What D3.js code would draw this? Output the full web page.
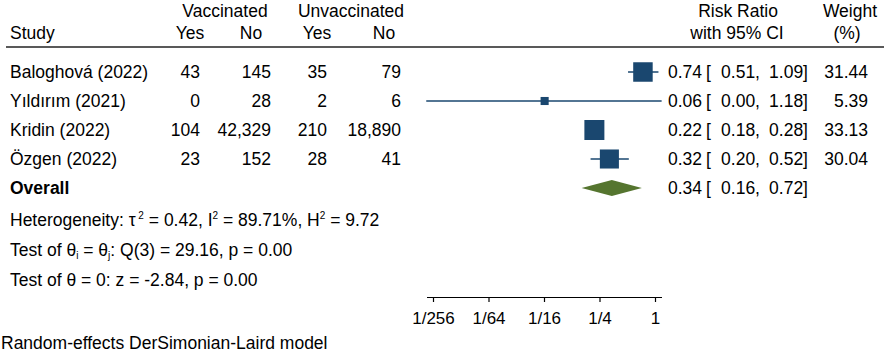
<!DOCTYPE html>
<html><head><meta charset="utf-8">
<script src="https://cdn.jsdelivr.net/npm/d3@7"></script>
<style>body{margin:0;background:#fff}text{font-family:"Liberation Sans",Arial,sans-serif;font-size:17.5px;fill:#000}</style>
</head><body><svg id="c" width="886" height="353"></svg>
<script>
const studies = ["Baloghová (2022)", "Yıldırım (2021)", "Kridin (2022)", "Özgen (2022)"];
const vaccYes = ["43", "0", "104", "23"];
const vaccNo = ["145", "28", "42,329", "152"];
const unvaccYes = ["35", "2", "210", "28"];
const unvaccNo = ["79", "6", "18,890", "41"];
const rr = [0.74, 0.0635, 0.22, 0.32];
const rrLo = [0.51, 0.0033, 0.18, 0.20];
const rrHi = [1.09, 1.18, 0.28, 0.52];
const rrLabel = ["0.74", "0.06", "0.22", "0.32"];
const loLabel = ["0.51", "0.00", "0.18", "0.20"];
const hiLabel = ["1.09", "1.18", "0.28", "0.52"];
const weights = [31.44, 5.39, 33.13, 30.04];
const overall = {rr: 0.34, lo: 0.16, hi: 0.72};
const axisTicks = [1/256, 1/64, 1/16, 1/4, 1];
const tickLabels = ["1/256", "1/64", "1/16", "1/4", "1"];

const svg = d3.select("#c");
const x = d3.scaleLog().base(2).domain([1/256, 1]).range([433, 655]);
const rowY = d3.scalePoint().domain(d3.range(5)).range([72, 188]);

// header
const hdr = [
  {t:"Vaccinated", x:225, y:17, a:"middle"},
  {t:"Unvaccinated", x:351, y:17, a:"middle"},
  {t:"Study", x:10, y:39, a:"start"},
  {t:"Yes", x:190, y:39, a:"middle"},
  {t:"No", x:251, y:39, a:"middle"},
  {t:"Yes", x:317, y:39, a:"middle"},
  {t:"No", x:384, y:39, a:"middle"},
  {t:"Risk Ratio", x:738, y:17, a:"middle"},
  {t:"with 95% CI", x:737, y:39, a:"middle"},
  {t:"Weight", x:850, y:17, a:"middle"},
  {t:"(%)", x:847, y:39, a:"middle"}
];
svg.selectAll("text.h").data(hdr).join("text").attr("class","h")
  .attr("x",d=>d.x).attr("y",d=>d.y).attr("text-anchor",d=>d.a).text(d=>d.t);
svg.append("line").attr("x1",6).attr("x2",884).attr("y1",47).attr("y2",47)
  .attr("stroke","#222").attr("stroke-width",1.6);

const cols = [
  {v:vaccYes, x:200}, {v:vaccNo, x:271}, {v:unvaccYes, x:327}, {v:unvaccNo, x:401}
];
studies.forEach((s,i)=>{
  const yb = rowY(i)+6;
  svg.append("text").attr("x",10).attr("y",yb).text(s);
  cols.forEach(c=>svg.append("text").attr("x",c.x).attr("y",yb).attr("text-anchor","end").text(c.v[i]));
  svg.append("text").attr("x",702).attr("y",yb).attr("text-anchor","end").text(rrLabel[i]);
  svg.append("text").attr("x",706).attr("y",yb).text("[");
  svg.append("text").attr("x",760).attr("y",yb).attr("text-anchor","end").text(loLabel[i]+",");
  svg.append("text").attr("x",808).attr("y",yb).attr("text-anchor","end").text(hiLabel[i]+"]");
  svg.append("text").attr("x",868).attr("y",yb).attr("text-anchor","end").text(weights[i].toFixed(2));
});

// CI lines and boxes
const col1 = "#1a476f";
const gPlot = svg.append("g");
gPlot.selectAll("line.ci").data(rr).join("line").attr("class","ci")
  .attr("x1",(d,i)=>Math.max(x(rrLo[i]),426)).attr("x2",(d,i)=>x(rrHi[i]))
  .attr("y1",(d,i)=>rowY(i)).attr("y2",(d,i)=>rowY(i))
  .attr("stroke",col1).attr("stroke-width",1.5);
const side = w => 3.475*Math.sqrt(w);
gPlot.selectAll("rect.box").data(rr).join("rect").attr("class","box")
  .attr("x",(d,i)=>x(d)-side(weights[i])/2).attr("y",(d,i)=>rowY(i)-side(weights[i])/2)
  .attr("width",(d,i)=>side(weights[i])).attr("height",(d,i)=>side(weights[i]))
  .attr("fill",col1);

// overall
const oy = rowY(4);
svg.append("text").attr("x",10).attr("y",oy+6).attr("font-weight","bold").text("Overall");
svg.append("path").attr("d",`M${x(overall.lo)},${oy}L${x(overall.rr)},${oy-8}L${x(overall.hi)},${oy}L${x(overall.rr)},${oy+8}Z`)
  .attr("fill","#55752f");
svg.append("text").attr("x",702).attr("y",oy+6).attr("text-anchor","end").text(overall.rr.toFixed(2));
svg.append("text").attr("x",706).attr("y",oy+6).text("[");
svg.append("text").attr("x",760).attr("y",oy+6).attr("text-anchor","end").text(overall.lo.toFixed(2)+",");
svg.append("text").attr("x",808).attr("y",oy+6).attr("text-anchor","end").text(overall.hi.toFixed(2)+"]");

// stats text
const t1 = svg.append("text").attr("x",10).attr("y",226);
t1.append("tspan").text("Heterogeneity: τ");
t1.append("tspan").attr("dy",-7).attr("font-size","10px").text(" 2");
t1.append("tspan").attr("dy",7).text(" = 0.42, I");
t1.append("tspan").attr("dy",-7).attr("font-size","10px").text("2");
t1.append("tspan").attr("dy",7).text(" = 89.71%, H");
t1.append("tspan").attr("dy",-7).attr("font-size","10px").text("2");
t1.append("tspan").attr("dy",7).text(" = 9.72");
const t2 = svg.append("text").attr("x",10).attr("y",256);
t2.append("tspan").text("Test of θ");
t2.append("tspan").attr("dy",3).attr("font-size","10px").text("i");
t2.append("tspan").attr("dy",-3).text(" = θ");
t2.append("tspan").attr("dy",3).attr("font-size","10px").text("j");
t2.append("tspan").attr("dy",-3).text(": Q(3) = 29.16, p = 0.00");
svg.append("text").attr("x",10).attr("y",286).text("Test of θ = 0: z = -2.84, p = 0.00");
svg.append("text").attr("x",1).attr("y",349).text("Random-effects DerSimonian-Laird model");

// axis
const ax = d3.axisBottom(x).tickValues(axisTicks).tickFormat((d,i)=>tickLabels[i]).tickSize(5).tickSizeOuter(0);
const gA = svg.append("g").attr("transform","translate(0,297)").call(ax);
gA.select(".domain").attr("d","M427,0.5H662").attr("stroke","#000").attr("stroke-width",1.2);
gA.selectAll(".tick line").attr("stroke","#000").attr("stroke-width",1.2);
gA.selectAll(".tick text").attr("font-family",null).attr("font-size",null).attr("dy",null).attr("y",27).style("font-size","17px");
</script></body></html>
